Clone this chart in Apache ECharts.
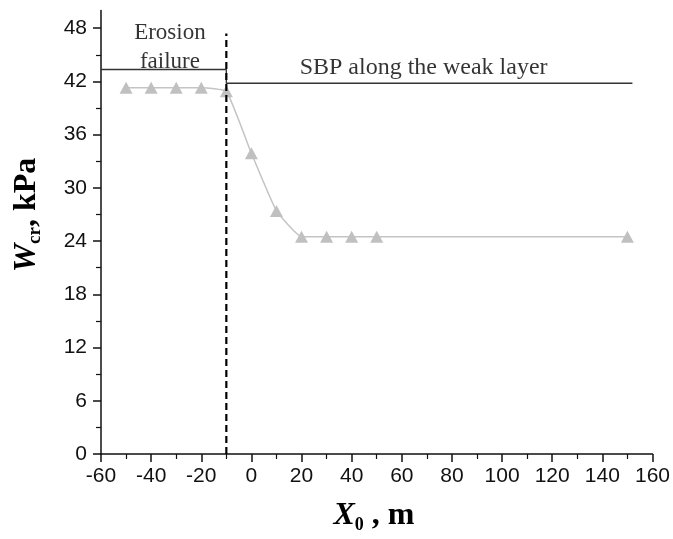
<!DOCTYPE html>
<html>
<head>
<meta charset="utf-8">
<script src="https://cdn.jsdelivr.net/npm/echarts@6/dist/echarts.min.js"></script>
<style>
html,body{margin:0;padding:0;background:#fff;}
#chart{width:673px;height:539px;}
</style>
</head>
<body>
<div id="chart"></div>
<script>
// ---- data ----
const x0Values = [-50, -40, -30, -20, -10, 0, 10, 20, 30, 40, 50, 150];
const wcrValues = [41.3, 41.3, 41.3, 41.3, 40.9, 33.9, 27.4, 24.5, 24.5, 24.5, 24.5, 24.5];
const limitX = [-60, -10, -10, 152];
const limitY = [43.35, 43.35, 41.8, 41.8];
const dashX = [-10, -10];
const dashY = [0, 47.4];
const yMajorTicks = [0, 6, 12, 18, 24, 30, 36, 42, 48];
const yMinorTicks = [3, 9, 15, 21, 27, 33, 39, 45];
const noteText = ['Erosion\nfailure', 'SBP along the weak layer'];
const noteX = [-32.5, 68.7];
const noteY = [45.8, 43.6];

const zip = (a, b) => a.map((v, i) => [v, b[i]]);

const chart = echarts.init(document.getElementById('chart'));
const axisColor = '#111';
const labelFont = { fontFamily: '"Liberation Sans", Arial, sans-serif', fontSize: 21, color: '#111' };

chart.setOption({
  animation: false,
  backgroundColor: '#fff',
  grid: { left: 101, right: 20, top: 10.5, bottom: 85, containLabel: false },
  xAxis: {
    type: 'value', min: -60, max: 160, interval: 20,
    axisLine: { show: true, onZero: false, lineStyle: { color: axisColor, width: 1.5 } },
    axisTick: { show: true, length: 8, lineStyle: { color: axisColor, width: 1.5 } },
    minorTick: { show: true, splitNumber: 2, length: 5, lineStyle: { color: axisColor, width: 1.2 } },
    splitLine: { show: false },
    axisLabel: Object.assign({ margin: 12 }, labelFont)
  },
  yAxis: [{
    type: 'value', min: 0, max: 50, position: 'left', offset: 0,
    axisLine: { show: true, onZero: false, lineStyle: { color: axisColor, width: 1.5 } },
    axisTick: { show: true, length: 8, customValues: yMajorTicks, lineStyle: { color: axisColor, width: 1.5 } },
    splitLine: { show: false },
    axisLabel: Object.assign({ margin: 14, customValues: yMajorTicks }, labelFont)
  }, {
    type: 'value', min: 0, max: 50, position: 'left', offset: 0,
    axisLine: { show: false, onZero: false },
    axisTick: { show: true, length: 5, customValues: yMinorTicks, lineStyle: { color: axisColor, width: 1.2 } },
    splitLine: { show: false },
    axisLabel: { show: false, customValues: yMinorTicks }
  }],
  series: [{
    type: 'line',
    data: zip(limitX, limitY),
    symbol: 'none',
    lineStyle: { color: '#333', width: 1.3 },
    z: 2
  }, {
    type: 'line',
    data: zip(x0Values, wcrValues),
    smooth: 0.12,
    symbol: 'triangle',
    symbolSize: [13, 12],
    itemStyle: { color: '#c0c0c0' },
    lineStyle: { color: '#c4c4c4', width: 1.5 },
    z: 3
  }, {
    type: 'line',
    data: zip(dashX, dashY),
    symbol: 'none',
    lineStyle: { color: '#000', width: 2.2, type: [7, 4] },
    z: 4
  }, {
    type: 'scatter',
    data: noteText.map((t, i) => ({ value: [noteX[i], noteY[i]], name: t })),
    symbolSize: 0,
    silent: true,
    label: {
      show: true, position: 'inside',
      formatter: p => p.name,
      fontFamily: '"Liberation Serif", "Times New Roman", serif',
      fontSize: 23, lineHeight: 29, color: '#000', align: 'center', verticalAlign: 'middle'
    },
    labelLayout: p => p.dataIndex === 1 ? { fontSize: 24 } : {},
    z: 5
  }],
  graphic: [{
    type: 'text',
    x: 374, y: 516,
    style: {
      text: '{i|X}{s|0}{n| , m}',
      x: 0, y: 0,
      align: 'center', verticalAlign: 'middle',
      rich: {
        i: { fontFamily: '"Liberation Serif", serif', fontStyle: 'italic', fontWeight: 'bold', fontSize: 32, lineHeight: 36, fill: '#000' },
        s: { fontFamily: '"Liberation Serif", serif', fontWeight: 'bold', fontSize: 18, lineHeight: 10, verticalAlign: 'bottom', fill: '#000' },
        n: { fontFamily: '"Liberation Serif", serif', fontWeight: 'bold', fontSize: 32, lineHeight: 36, fill: '#000' }
      }
    }
  }, {
    type: 'text',
    x: 27, y: 215,
    rotation: Math.PI / 2,
    style: {
      text: '{i|W}{s|cr}{n|, kPa}',
      x: 0, y: 0,
      align: 'center', verticalAlign: 'middle',
      rich: {
        i: { fontFamily: '"Liberation Serif", serif', fontStyle: 'italic', fontWeight: 'bold', fontSize: 32, lineHeight: 36, fill: '#000' },
        s: { fontFamily: '"Liberation Serif", serif', fontWeight: 'bold', fontSize: 19, lineHeight: 10, verticalAlign: 'bottom', fill: '#000' },
        n: { fontFamily: '"Liberation Serif", serif', fontWeight: 'bold', fontSize: 32, lineHeight: 36, fill: '#000' }
      }
    }
  }]
});
</script>
</body>
</html>
